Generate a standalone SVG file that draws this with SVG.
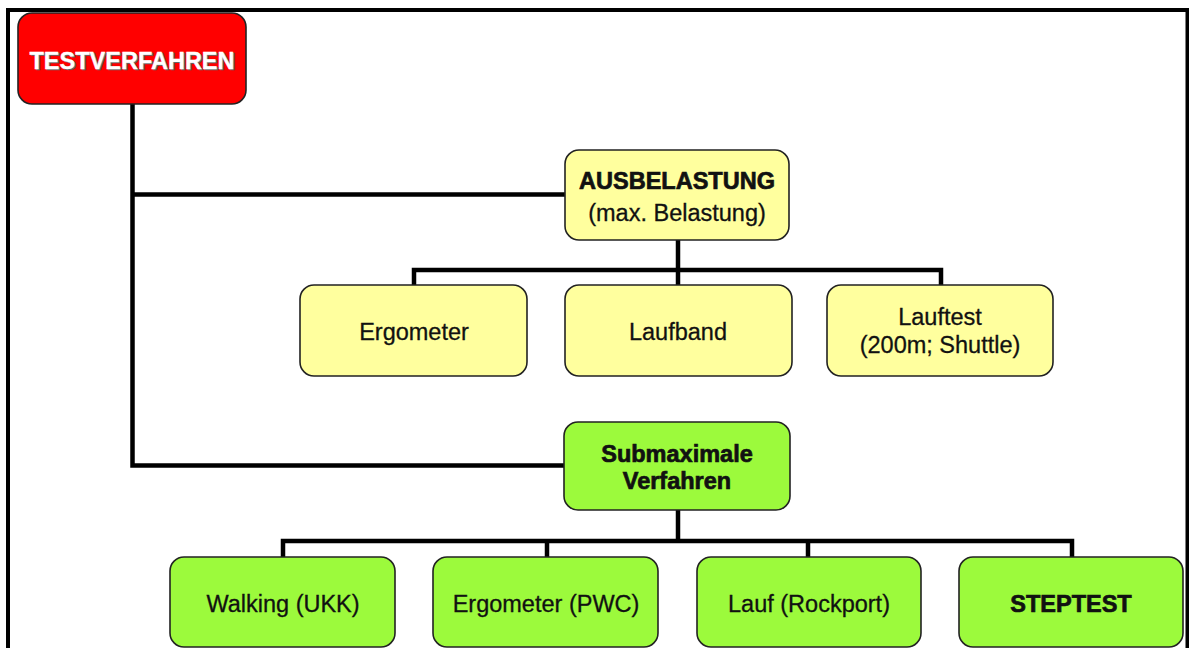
<svg xmlns="http://www.w3.org/2000/svg" width="1189" height="648" viewBox="0 0 1189 648">
<style>
.box{stroke:#222;stroke-width:1.6}
.red{fill:#ff0000}
.yel{fill:#ffff9e}
.grn{fill:#9cfa3c}
.t{font-family:"Liberation Sans",Arial,sans-serif;font-size:23.5px;fill:#111;text-anchor:middle;stroke:#111;stroke-width:0.3}
.b{font-weight:bold;stroke-width:0.7}
.w{fill:#fff;stroke:#fff;stroke-width:0.3}
.sh{fill:#666;stroke:#666;stroke-width:0.3}
.con{fill:none;stroke:#000;stroke-width:4.5;stroke-linejoin:miter}
</style>
<rect width="1189" height="648" fill="#fff"/>
<path d="M8,648 V10 H1187.5 V648" fill="none" stroke="#000" stroke-width="4"/>
<g id="connectors" class="con">
<path d="M132.5,104 V465.5 H564"/>
<path d="M132.5,194.5 H565"/>
<path d="M678,240 V285"/>
<path d="M414,285 V270 H941 V285"/>
<path d="M678,510 V541"/>
<path d="M283,557 V541 H1072 V557"/>
<path d="M547,541 V557"/>
<path d="M808,541 V557"/>
</g>
<g id="testverfahren">
<rect class="box red" x="18" y="13" width="228" height="91" rx="14"/>
<text class="t b sh" x="133.5" y="70">TESTVERFAHREN</text>
<text class="t b w" x="132" y="68.5">TESTVERFAHREN</text>
</g>
<g id="ausbelastung">
<rect class="box yel" x="565" y="150" width="224" height="90" rx="14"/>
<text class="t b" x="677" y="189">AUSBELASTUNG</text>
<text class="t" x="677" y="221">(max. Belastung)</text>
</g>
<g id="ergometer">
<rect class="box yel" x="300" y="285" width="227" height="91" rx="14"/>
<text class="t" x="414" y="340">Ergometer</text>
</g>
<g id="laufband">
<rect class="box yel" x="565" y="285" width="227" height="91" rx="14"/>
<text class="t" x="678" y="340">Laufband</text>
</g>
<g id="lauftest">
<rect class="box yel" x="827" y="285" width="226" height="91" rx="14"/>
<text class="t" x="940" y="325">Lauftest</text>
<text class="t" x="940" y="353">(200m; Shuttle)</text>
</g>
<g id="submaximale">
<rect class="box grn" x="564" y="422" width="226" height="88" rx="14"/>
<text class="t b" x="677" y="462">Submaximale</text>
<text class="t b" x="677" y="489">Verfahren</text>
</g>
<g id="walking">
<rect class="box grn" x="170" y="557" width="225" height="90" rx="14"/>
<text class="t" x="283" y="612">Walking (UKK)</text>
</g>
<g id="ergometer-pwc">
<rect class="box grn" x="433" y="557" width="225" height="90" rx="14"/>
<text class="t" x="546" y="612">Ergometer (PWC)</text>
</g>
<g id="lauf">
<rect class="box grn" x="697" y="557" width="224" height="90" rx="14"/>
<text class="t" x="809" y="612">Lauf (Rockport)</text>
</g>
<g id="steptest">
<rect class="box grn" x="959" y="557" width="224" height="90" rx="14"/>
<text class="t b" x="1071" y="612">STEPTEST</text>
</g>
</svg>
